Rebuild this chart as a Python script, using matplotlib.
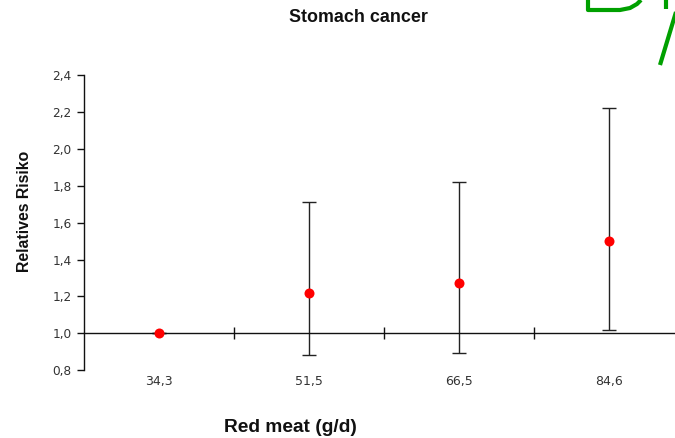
import matplotlib
matplotlib.use("Agg")
import matplotlib.pyplot as plt
from matplotlib.lines import Line2D
import matplotlib.transforms as mtransforms

plt.rcParams['font.family'] = ['Liberation Sans', 'DejaVu Sans']

# Intake categories and relative risks with 95% CI
categories = ["34,3", "51,5", "66,5", "84,6"]
rr = [1.00, 1.22, 1.27, 1.50]
ci_low = [1.00, 0.88, 0.895, 1.02]
ci_high = [1.00, 1.71, 1.82, 2.22]
y_ticks = [0.8, 1.0, 1.2, 1.4, 1.6, 1.8, 2.0, 2.2, 2.4]
y_tick_labels = ["0,8", "1,0", "1,2", "1,4", "1,6", "1,8", "2,0", "2,2", "2,4"]

W, H = 675, 438
fig = plt.figure(figsize=(W / 100, H / 100), dpi=100)
ax = fig.add_axes([84 / W, 1 - 370.2 / H, 600 / W, (370.2 - 75) / H])

x = list(range(len(categories)))
err_lo = [r - l for r, l in zip(rr, ci_low)]
err_hi = [h - r for r, h in zip(rr, ci_high)]
ax.errorbar(x, rr, yerr=[err_lo, err_hi], fmt='none', ecolor='#222222',
            elinewidth=1.0, capsize=5, capthick=1.0, zorder=2)
ax.plot(x, rr, 'o', color='#ff0000', markersize=7.2, markeredgewidth=0, zorder=3)

ax.set_xlim(-0.5, len(categories) - 0.5)
ax.set_ylim(y_ticks[0], y_ticks[-1])

# axes styling: x axis sits on RR = 1
for s in ['top', 'right']:
    ax.spines[s].set_visible(False)
ax.spines['bottom'].set_position(('data', 1.0))
ax.spines['bottom'].set_color('#111111')
ax.spines['left'].set_color('#111111')
ax.spines['bottom'].set_linewidth(1.0)
ax.spines['left'].set_linewidth(1.0)

tick_font = dict(family='DejaVu Sans', color='#333333')
ax.set_yticks(y_ticks)
ax.set_yticklabels(y_tick_labels, fontsize=8.7, **tick_font)
ax.tick_params(axis='y', direction='out', length=5, width=1.0, color='#111111', pad=4)

boundaries = [i + 0.5 for i in range(len(categories))]
ax.set_xticks(boundaries)
ax.set_xticklabels([])
ax.tick_params(axis='x', direction='inout', length=9, width=1.0, color='#111111')

trans = mtransforms.blended_transform_factory(ax.transData, ax.transAxes)
for xi, lab in zip(x, categories):
    ax.text(xi, -0.037, lab, transform=trans, ha='center', va='center',
            fontsize=9, **tick_font)

fig.text(358.5 / W, 1 - 17 / H, "Stomach cancer", ha='center', va='center',
         fontsize=12.9, fontweight='bold', color='#111111')
fig.text(290.5 / W, 1 - 428 / H, "Red meat (g/d)", ha='center', va='center',
         fontsize=13.8, fontweight='bold', color='#111111')
fig.text(25 / W, 1 - 211 / H, "Relatives Risiko", ha='center', va='center',
         rotation=90, fontsize=11.4, fontweight='bold', color='#111111')

# green hand-drawn mark in the top-right corner
green = '#00a000'
def stroke(px, py):
    fig.add_artist(Line2D([p / W for p in px], [1 - q / H for q in py],
                          transform=fig.transFigure, color=green, lw=3.0,
                          solid_capstyle='butt', solid_joinstyle='round'))
stroke([588, 588, 620, 630, 637, 641], [0, 10, 10, 8, 4, 0])
stroke([666, 666], [0, 9])
stroke([660, 676], [65, 12])

fig.savefig("out.png", dpi=100)
